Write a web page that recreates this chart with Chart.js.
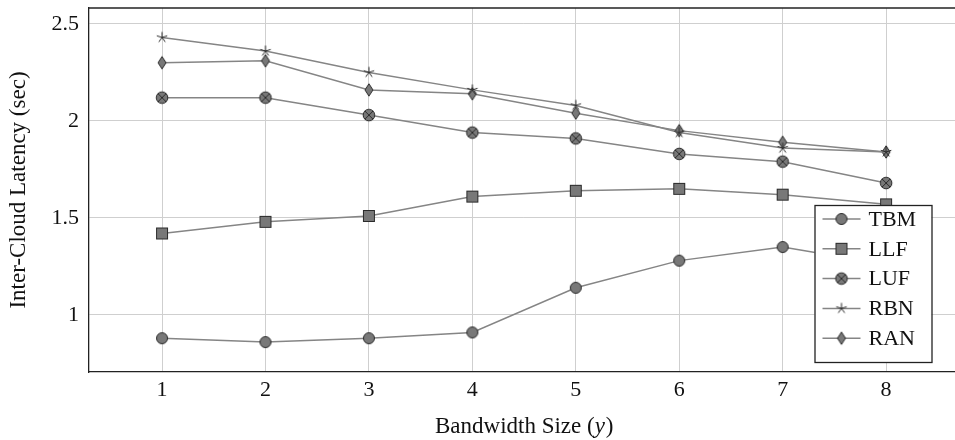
<!DOCTYPE html>
<html>
<head>
<meta charset="utf-8">
<script src="https://cdn.jsdelivr.net/npm/chart.js@4/dist/chart.umd.min.js"></script>
<style>
  html, body { margin: 0; padding: 0; background: #fff; overflow: hidden; }
  #wrap { width: 955px; height: 440px; overflow: hidden; }
</style>
</head>
<body>
<div id="wrap"><canvas id="latencyChart" width="966" height="440"></canvas></div>
<script>
// Bandwidth sizes (x axis)
const bandwidth = [1, 2, 3, 4, 5, 6, 7, 8];
const yTicks = [1, 1.5, 2, 2.5];

// Inter-cloud latency per strategy
const tbm = [0.88, 0.86, 0.88, 0.91, 1.14, 1.28, 1.35, 1.26];
const llf = [1.42, 1.48, 1.51, 1.61, 1.64, 1.65, 1.62, 1.57];
const luf = [2.12, 2.12, 2.03, 1.94, 1.91, 1.83, 1.79, 1.68];
const rbn = [2.43, 2.36, 2.25, 2.16, 2.08, 1.94, 1.86, 1.84];
const ran = [2.30, 2.31, 2.16, 2.14, 2.04, 1.95, 1.89, 1.84];

const names = ['TBM', 'LLF', 'LUF', 'RBN', 'RAN'];
const seriesList = [tbm, llf, luf, rbn, ran];

const FILL = '#787878';
const EDGE = '#2a2a2a';
const LINE = '#858585';
const FONT = '"Liberation Serif", "DejaVu Serif", serif';

// marker images
function makeMarker(kind) {
  const c = document.createElement('canvas');
  c.width = 16; c.height = 16;
  const g = c.getContext('2d');
  g.fillStyle = FILL;
  g.strokeStyle = EDGE;
  g.lineWidth = 1;
  if (kind === 'circle') {
    g.beginPath(); g.arc(8, 8, 5.5, 0, Math.PI * 2); g.fill(); g.stroke();
  } else if (kind === 'square') {
    g.fillRect(2.5, 2.5, 11, 11); g.strokeRect(2.5, 2.5, 11, 11);
  } else if (kind === 'circlex') {
    g.beginPath(); g.arc(8, 8, 5.8, 0, Math.PI * 2); g.fill(); g.stroke();
    const d = 4.1;
    g.beginPath();
    g.moveTo(8 - d, 8 - d); g.lineTo(8 + d, 8 + d);
    g.moveTo(8 + d, 8 - d); g.lineTo(8 - d, 8 + d);
    g.stroke();
  } else if (kind === 'star') {
    g.beginPath();
    for (let k = 0; k < 5; k++) {
      const a = -Math.PI / 2 + k * 2 * Math.PI / 5;
      g.moveTo(8, 8);
      g.lineTo(8 + 5.5 * Math.cos(a), 8 + 5.5 * Math.sin(a));
    }
    g.stroke();
  } else if (kind === 'diamond') {
    g.beginPath();
    g.moveTo(8, 1.8); g.lineTo(12, 8); g.lineTo(8, 14.2); g.lineTo(4, 8); g.closePath();
    g.fill(); g.stroke();
  }
  return c;
}
const markers = ['circle', 'square', 'circlex', 'star', 'diamond'].map(makeMarker);

// top frame line, x axis title with italic y, legend inside the plot
const extras = {
  id: 'extras',
  afterDatasetsDraw(chart) {
    const ctx = chart.ctx;
    const area = chart.chartArea;
    ctx.save();
    // top border
    ctx.strokeStyle = '#222';
    ctx.lineWidth = 1.3;
    ctx.beginPath(); ctx.moveTo(area.left, area.top); ctx.lineTo(area.right, area.top); ctx.stroke();

    // x title
    const cx = (area.left + area.right) / 2;
    const part1 = 'Bandwidth Size (', part2 = 'y', part3 = ')';
    ctx.font = '23px ' + FONT;
    const w1 = ctx.measureText(part1).width, w3 = ctx.measureText(part3).width;
    ctx.font = 'italic 23px ' + FONT;
    const w2 = ctx.measureText(part2).width;
    let tx = cx - (w1 + w2 + w3) / 2;
    const ty = 427;
    ctx.fillStyle = '#111';
    ctx.textBaseline = 'middle';
    ctx.textAlign = 'left';
    ctx.font = '23px ' + FONT; ctx.fillText(part1, tx, ty); tx += w1;
    ctx.font = 'italic 23px ' + FONT; ctx.fillText(part2, tx, ty); tx += w2 + 1;
    ctx.font = '23px ' + FONT; ctx.fillText(part3, tx, ty);

    // legend
    const x0 = area.right - 144, y0 = area.bottom - 167, w = 117, h = 157;
    ctx.fillStyle = '#fff';
    ctx.fillRect(x0, y0, w, h);
    ctx.strokeStyle = '#222';
    ctx.lineWidth = 1.3;
    ctx.strokeRect(x0 + 0.5, y0 + 0.5, w, h);
    ctx.font = '22px ' + FONT;
    chart.data.datasets.forEach((ds, i) => {
      const cy = y0 + 14 + i * 29.8;
      ctx.strokeStyle = LINE;
      ctx.lineWidth = 1.5;
      ctx.beginPath(); ctx.moveTo(x0 + 8, cy); ctx.lineTo(x0 + 46, cy); ctx.stroke();
      ctx.drawImage(markers[i], x0 + 27 - 8, cy - 8);
      ctx.fillStyle = '#111';
      ctx.fillText(ds.label, x0 + 54, cy + 1);
    });
    ctx.restore();
  }
};

const datasets = names.map((name, i) => ({
  label: name,
  data: bandwidth.map((b, j) => ({ x: b, y: seriesList[i][j] })),
  borderColor: LINE,
  borderWidth: 1.5,
  pointStyle: markers[i],
  pointRadius: 6,
  showLine: true,
  fill: false,
  tension: 0
}));

new Chart(document.getElementById('latencyChart'), {
  type: 'scatter',
  data: { datasets: datasets },
  options: {
    responsive: false,
    animation: false,
    layout: { padding: { top: 8, right: 2, left: 0, bottom: 0 } },
    plugins: { legend: { display: false }, tooltip: { enabled: false } },
    scales: {
      x: {
        type: 'linear',
        min: 0.294,
        max: 8.7,
        afterBuildTicks: (s) => { s.ticks = bandwidth.map(v => ({ value: v })); },
        afterFit: (s) => { s.height = 68; s.paddingLeft = 0; s.paddingRight = 0; },
        grid: { color: '#cfcfcf', lineWidth: 1, drawTicks: false },
        border: { color: '#222', width: 1.3 },
        ticks: { color: '#111', font: { family: FONT, size: 22 }, padding: 5,
                 callback: (v) => String(v) },
        title: { display: false }
      },
      y: {
        min: 0.706,
        max: 2.582,
        afterBuildTicks: (s) => { s.ticks = yTicks.map(v => ({ value: v })); },
        afterFit: (s) => { s.width = 89; s.paddingTop = 0; s.paddingBottom = 0; },
        grid: { color: '#cfcfcf', lineWidth: 1, drawTicks: false },
        border: { color: '#222', width: 1.3 },
        ticks: { color: '#111', font: { family: FONT, size: 22 }, padding: 10,
                 callback: (v) => String(v) },
        title: { display: true, text: 'Inter-Cloud Latency (sec)', color: '#111',
                 font: { family: FONT, size: 23 }, padding: { top: 5, bottom: 0 } }
      }
    }
  },
  plugins: [extras]
});
</script>
</body>
</html>
